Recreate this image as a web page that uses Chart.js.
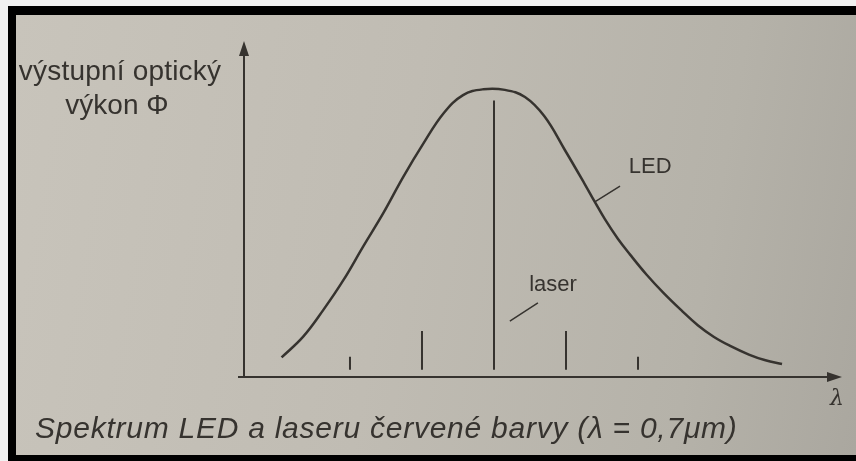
<!DOCTYPE html>
<html>
<head>
<meta charset="utf-8">
<script src="https://cdn.jsdelivr.net/npm/chart.js@4/dist/chart.umd.min.js"></script>
<style>
  html, body { margin: 0; padding: 0; width: 856px; height: 461px; overflow: hidden; background: #f1f1f1; }
  #frame { position: absolute; left: 8px; top: 6px; width: 848px; height: 455px; background: #000; }
  #paper { position: absolute; left: 16px; top: 15px; width: 840px; height: 440px;
           background: linear-gradient(100deg, #c8c4bb 0%, #c0bcb3 45%, #b5b2a9 80%, #aaa79f 100%); }
  #c { position: absolute; left: 0; top: 0; }
</style>
</head>
<body>
<div id="frame"></div>
<div id="paper"></div>
<canvas id="c" width="856" height="461"></canvas>
<script>
// LED spektrum (relativní jednotky: x = odstup od 0,7 µm v roztečích módů, y = výkon / max)
const ledX = [-2.95, -2.65, -2.37, -2.09, -1.82, -1.54, -1.26, -0.98, -0.70, -0.43, -0.15, 0.15, 0.43, 0.70, 0.98, 1.26, 1.40, 1.54, 1.72, 1.89, 2.12, 2.35, 2.6, 2.83, 3.05, 3.28, 3.54, 3.77, 4.0];
const ledY = [0.068, 0.14, 0.233, 0.337, 0.452, 0.568, 0.695, 0.811, 0.916, 0.979, 0.999, 0.997, 0.972, 0.905, 0.79, 0.67, 0.608, 0.548, 0.48, 0.425, 0.355, 0.293, 0.232, 0.18, 0.14, 0.108, 0.078, 0.058, 0.045];

// módy laseru
const laserX = [-2, -1, 0, 1, 2];
const laserTop = [0.07, 0.16, 0.96, 0.16, 0.07];
const laserBase = 0.025;

// texty
const yTitle = ['výstupní optický', 'výkon Φ'];
const xTitle = 'λ';
const caption = 'Spektrum LED a laseru červené barvy (λ = 0,7μm)';
const ledLabel = 'LED';
const laserLabel = 'laser';

const ink = '#36332f';

const ledData = ledX.map((x, i) => ({ x: x, y: ledY[i] }));
const laserData = [];
laserX.forEach((x, i) => {
  laserData.push({ x: x, y: laserBase }, { x: x, y: laserTop[i] }, { x: x, y: null });
});

// osy se šipkami a popisky
const drawingPlugin = {
  id: 'drawing',
  beforeDatasetsDraw(chart) {
    const ctx = chart.ctx;
    const a = chart.chartArea;
    ctx.save();
    ctx.strokeStyle = ink;
    ctx.fillStyle = ink;
    ctx.lineWidth = 2;
    // osa y
    ctx.beginPath();
    ctx.moveTo(a.left, a.bottom + 1);
    ctx.lineTo(a.left, a.top + 10);
    ctx.stroke();
    ctx.beginPath();
    ctx.moveTo(a.left, a.top);
    ctx.lineTo(a.left - 5, a.top + 15);
    ctx.lineTo(a.left + 5, a.top + 15);
    ctx.closePath();
    ctx.fill();
    // osa x
    ctx.beginPath();
    ctx.moveTo(a.left - 6, a.bottom);
    ctx.lineTo(a.right - 10, a.bottom);
    ctx.stroke();
    ctx.beginPath();
    ctx.moveTo(a.right, a.bottom);
    ctx.lineTo(a.right - 15, a.bottom - 5);
    ctx.lineTo(a.right - 15, a.bottom + 5);
    ctx.closePath();
    ctx.fill();
    ctx.restore();
  },
  afterDatasetsDraw(chart) {
    const ctx = chart.ctx;
    const xs = chart.scales.x, ys = chart.scales.y;
    const px = v => xs.getPixelForValue(v);
    const py = v => ys.getPixelForValue(v);
    ctx.save();
    ctx.strokeStyle = ink;
    ctx.fillStyle = ink;
    ctx.lineWidth = 1.5;
    // odkazové čárky
    ctx.beginPath();
    ctx.moveTo(px(1.40), py(0.608));
    ctx.lineTo(px(1.75), py(0.663));
    ctx.moveTo(px(0.22), py(0.194));
    ctx.lineTo(px(0.61), py(0.257));
    ctx.stroke();

    ctx.font = '22px "Liberation Sans", Arial, sans-serif';
    ctx.textAlign = 'center';
    ctx.textBaseline = 'middle';
    ctx.fillText(ledLabel, px(2.17), py(0.729));
    ctx.fillText(laserLabel, px(0.82), py(0.319));

    ctx.font = '28px "Liberation Sans", Arial, sans-serif';
    ctx.textBaseline = 'alphabetic';
    ctx.letterSpacing = '0.2px';
    ctx.fillText(yTitle[0], 120, 80);
    ctx.letterSpacing = '0px';
    ctx.fillText(yTitle[1], 117, 114);

    ctx.font = 'italic 22px "DejaVu Serif", serif';
    ctx.fillText(xTitle, 837, 405);

    ctx.font = 'italic 30px "Liberation Sans", Arial, sans-serif';
    ctx.textAlign = 'left';
    ctx.letterSpacing = '0.75px';
    ctx.fillText(caption, 35, 438);
    ctx.restore();
  }
};

new Chart(document.getElementById('c'), {
  type: 'line',
  data: {
    datasets: [
      {
        label: 'LED',
        data: ledData,
        borderColor: ink,
        borderWidth: 2.5,
        pointRadius: 0,
        fill: false,
        tension: 0.4
      },
      {
        label: 'laser',
        data: laserData,
        borderColor: ink,
        borderWidth: 2,
        pointRadius: 0,
        fill: false,
        spanGaps: false,
        tension: 0
      }
    ]
  },
  options: {
    responsive: false,
    animation: false,
    events: [],
    layout: { padding: { left: 244, right: 14, top: 41, bottom: 84 } },
    scales: {
      x: { type: 'linear', min: -3.472, max: 4.833, display: false },
      y: { type: 'linear', min: 0, max: 1.1667, display: false }
    },
    plugins: {
      legend: { display: false },
      tooltip: { enabled: false }
    },
    clip: false
  },
  plugins: [drawingPlugin]
});
</script>
</body>
</html>
